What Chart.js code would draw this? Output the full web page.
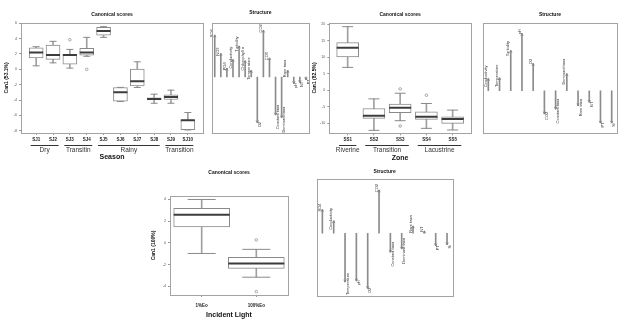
<!DOCTYPE html>
<html lang="en">
<head>
<meta charset="UTF-8">
<title>Canonical scores and structure</title>
<script src="https://cdn.jsdelivr.net/npm/chart.js"></script>
<style>
  body { margin: 0; background: #fff; width: 624px; height: 325px; position: relative; overflow: hidden; }
  canvas { position: absolute; }
</style>
</head>
<body>
<canvas id="seasonBox" width="212" height="163" style="left:0px;top:0px"></canvas>
<canvas id="seasonStruct" width="104" height="140" style="left:209px;top:0px"></canvas>
<canvas id="zoneBox" width="184" height="163" style="left:300px;top:0px"></canvas>
<canvas id="zoneStruct" width="144" height="140" style="left:478px;top:0px"></canvas>
<canvas id="lightBox" width="178" height="159" style="left:140px;top:166px"></canvas>
<canvas id="lightStruct" width="144" height="135" style="left:313px;top:166px"></canvas>

<script>
// ---- season (top left) ----
var seasonSites = ['SJ1', 'SJ2', 'SJ3', 'SJ4', 'SJ5', 'SJ6', 'SJ7', 'SJ8', 'SJ9', 'SJ10'];
var seasonLow  = [0.46, 0.85, 0.16, 1.7, 4.17, -4.2, -2.37, -4.42, -4.42, -7.9];
var seasonQ1   = [1.5, 1.29, 0.68, 1.86, 4.47, -4.16, -2.16, -3.99, -3.93, -7.86];
var seasonMed  = [2.21, 1.86, 1.86, 2.2, 4.99, -2.98, -1.54, -3.86, -3.6, -6.64];
var seasonQ3   = [2.8, 3.16, 1.95, 2.73, 5.48, -2.37, 0.03, -3.73, -3.33, -6.6];
var seasonHigh = [2.95, 3.65, 2.6, 4.17, 5.56, -2.35, 0.98, -3.24, -2.72, -5.63];
var seasonOut  = [[], [], [3.86], [0], [], [], [], [], [], []];
var seasonTicks = [6, 4, 2, 0, -2, -4, -6, -8];
var seasonGroups = [
  { label: 'Dry', from: 1, to: 2 },
  { label: 'Transitin', from: 3, to: 4 },
  { label: 'Rainy', from: 5, to: 8 },
  { label: 'Transition', from: 9, to: 10 }
];

// ---- zone (top right) ----
var zoneSites = ['SS1', 'SS2', 'SS3', 'SS4', 'SS5'];
var zoneLow  = [6.9, -12.1, -9.2, -11.5, -12.0];
var zoneQ1   = [10.1, -8.5, -6.8, -8.8, -10.0];
var zoneMed  = [12.8, -7.7, -5.3, -8.0, -8.7];
var zoneQ3   = [14.4, -5.5, -4.2, -6.5, -8.0];
var zoneHigh = [19.2, -2.6, -0.9, -4.0, -6.0];
var zoneOut  = [[], [], [0.4, -10.8], [-1.5], []];
var zoneTicks = [20, 15, 10, 5, 0, -5, -10];
var zoneGroups = [
  { label: 'Riverine', from: 1, to: 1 },
  { label: 'Transition', from: 2, to: 3 },
  { label: 'Lacustrine', from: 4, to: 5 }
];

// ---- incident light (bottom) ----
var lightLevels = ['1%Eo', '100%Eo'];
var lightLow  = [-0.98, -3.17];
var lightQ1   = [1.48, -2.35];
var lightMed  = [2.6, -1.9];
var lightQ3   = [3.18, -1.34];
var lightHigh = [4.0, -0.6];
var lightOut  = [[], [0.27, -4.5]];
var lightTicks = [4, 2, 0, -2, -4];

// ---- structure coefficients ----
var struct1Vars = ['SO4', 'NO3', 'PO4', 'Conductivity', 'Turbidity', 'Chlorophyll a', 'Temperature', 'O2',
                   'CO2', 'COT', 'Constant taxa', 'Dominant taxa', 'Rare taxa', 'pH', 'NT', 'PT'];
var struct1Load = [0.77, 0.43, 0.16, 0.32, 0.57, 0.30, 0.12, -0.84, 0.86, 0.35, -0.70, -0.75, 0.12, -0.12, -0.10, -0.05];

var struct2Vars = ['Conductivity', 'Temperature', 'Turbidity', 'pH', 'O2', 'CO2', 'Constant taxa',
                   'Dominant taxa', 'Rare taxa', 'NT', 'PT', 'Si'];
var struct2Load = [0.18, 0.19, 0.59, 0.84, 0.40, -0.34, -0.27, 0.25, -0.22, -0.17, -0.475, -0.475];

var struct3Vars = ['SO4', 'Conductivity', 'Temperature', 'pH', 'O2', 'CO2', 'Constant taxa',
                   'Dominant taxa', 'Rare taxa', 'NT', 'PT', 'Si'];
var struct3Load = [0.44, 0.23, -0.9, -0.88, -1.02, 0.8, -0.35, -0.29, 0.135, 0.04, -0.23, -0.21];

Chart.defaults.font.family = '"Liberation Sans", Arial, sans-serif';
Chart.defaults.color = '#333';
Chart.defaults.animation = false;
Chart.defaults.plugins.legend.display = false;
Chart.defaults.plugins.tooltip.enabled = false;

var FRAME = '#a3a3a3';
var LINE = '#8a8a8a';

// frame, title, group underlines
var panelDecor = {
  id: 'panelDecor',
  afterDraw: function (chart, args, opts) {
    var ctx = chart.ctx, a = chart.chartArea;
    ctx.save();
    ctx.strokeStyle = FRAME;
    ctx.lineWidth = 1;
    var l = Math.round(a.left) + 0.5, t = Math.round(a.top) + 0.5;
    ctx.strokeRect(l, t, Math.round(a.right) - Math.round(a.left), Math.round(a.bottom) - Math.round(a.top));
    ctx.fillStyle = '#111';
    ctx.font = 'bold 5px "Liberation Sans", Arial';
    ctx.textAlign = 'center';
    ctx.textBaseline = 'middle';
    ctx.fillText(opts.title, (a.left + a.right) / 2, opts.titleY);
    if (opts.groups) {
      var x = chart.scales.x;
      ctx.strokeStyle = '#333';
      ctx.fillStyle = '#333';
      ctx.font = '6.5px "Liberation Sans", Arial';
      opts.groups.forEach(function (g) {
        var x0 = x.getPixelForValue(g.from - 0.33), x1 = x.getPixelForValue(g.to + 0.33);
        ctx.beginPath();
        ctx.moveTo(x0, opts.lineY + 0.5);
        ctx.lineTo(x1, opts.lineY + 0.5);
        ctx.stroke();
        ctx.fillText(g.label, (x0 + x1) / 2, opts.labelY);
      });
    }
    ctx.restore();
  }
};

// arrowheads and rotated variable names on the structure bars
var arrowLabels = {
  id: 'arrowLabels',
  afterDatasetsDraw: function (chart) {
    var ctx = chart.ctx;
    var meta = chart.getDatasetMeta(0);
    var vals = chart.data.datasets[0].data;
    var names = chart.data.labels;
    ctx.save();
    meta.data.forEach(function (bar, i) {
      var up = vals[i] >= 0, dir = up ? -1 : 1;
      ctx.strokeStyle = '#777';
      ctx.lineWidth = 0.7;
      ctx.beginPath();
      ctx.moveTo(bar.x - 1.3, bar.y - dir * 2.2);
      ctx.lineTo(bar.x, bar.y);
      ctx.lineTo(bar.x + 1.3, bar.y - dir * 2.2);
      ctx.stroke();
      ctx.save();
      ctx.translate(bar.x + (up ? -0.5 : 0.5), bar.y + dir * 2);
      ctx.rotate(-Math.PI / 2);
      ctx.fillStyle = '#3a3a3a';
      ctx.font = '4px "Liberation Sans", Arial';
      ctx.textAlign = 'center';
      ctx.textBaseline = up ? 'bottom' : 'top';
      ctx.fillText(names[i], 0, 0);
      ctx.restore();
    });
    ctx.restore();
  }
};

function boxDatasets(low, q1, med, q3, high, outs, boxPx) {
  function pts(arr) { return arr.map(function (v, i) { return { x: i + 1, y: v }; }); }
  var outPts = [];
  outs.forEach(function (o, i) { o.forEach(function (v) { outPts.push({ x: i + 1, y: v }); }); });
  return [
    { type: 'bar', data: low.map(function (v, i) { return { x: i + 1, y: [v, high[i]] }; }),
      barThickness: 1, backgroundColor: '#a0a0a0', borderWidth: 0, grouped: false, order: 5 },
    { type: 'bar', data: q1.map(function (v, i) { return { x: i + 1, y: [v, q3[i]] }; }),
      barThickness: boxPx, backgroundColor: '#ffffff', borderColor: LINE, borderWidth: 1,
      borderSkipped: false, grouped: false, order: 4 },
    { type: 'scatter', data: pts(med), pointStyle: 'line', radius: boxPx / 2, borderWidth: 2,
      borderColor: '#3c3c3c', order: 1 },
    { type: 'scatter', data: pts(low).concat(pts(high)), pointStyle: 'line', radius: boxPx / 4,
      borderWidth: 1, borderColor: LINE, order: 2 },
    { type: 'scatter', data: outPts, pointStyle: 'circle', radius: 1.3, borderWidth: 0.7,
      borderColor: '#888', backgroundColor: 'rgba(0,0,0,0)', order: 3 }
  ];
}

function boxChart(id, p) {
  return new Chart(document.getElementById(id), {
    type: 'bar',
    data: { datasets: boxDatasets(p.low, p.q1, p.med, p.q3, p.high, p.outs, p.boxPx) },
    options: {
      responsive: false,
      layout: { padding: { top: p.top, right: p.right, left: 0, bottom: 0 } },
      scales: {
        x: {
          type: 'linear', min: 0.5 - 0.04 * p.cats.length, max: p.cats.length + 0.5 + 0.04 * p.cats.length,
          offset: false,
          afterBuildTicks: function (s) { s.ticks = p.cats.map(function (c, i) { return { value: i + 1 }; }); },
          afterFit: function (s) { s.height = p.xHeight; },
          border: { display: false },
          grid: { drawOnChartArea: false, offset: false, tickLength: 2, color: '#999' },
          ticks: { autoSkip: false, maxRotation: 0, padding: p.xTickPad, color: '#222',
                   font: { size: 4.5, weight: 'bold' },
                   callback: function (v) { return p.cats[v - 1]; } },
          title: { display: true, text: p.xTitle, color: '#111', font: { size: 7, weight: 'bold' },
                   padding: { top: 0, bottom: p.xTitlePad } }
        },
        y: {
          min: p.yMin, max: p.yMax,
          afterBuildTicks: function (s) { s.ticks = p.ticks.map(function (v) { return { value: v }; }); },
          afterFit: function (s) { s.width = p.yWidth; },
          border: { display: false },
          grid: { drawOnChartArea: false, tickLength: 2, color: '#999' },
          ticks: { padding: 2, color: '#555', font: { size: 3.6 }, callback: function (v) { return v; } },
          title: { display: true, text: p.yTitle, color: '#111', font: { size: 5, weight: 'bold' },
                   padding: { top: p.yTitlePad, bottom: 0 } }
        }
      },
      plugins: {
        panelDecor: { title: 'Canonical scores', titleY: p.titleY, groups: p.groups,
                      lineY: p.lineY, labelY: p.labelY }
      }
    },
    plugins: [panelDecor]
  });
}

function structChart(id, p) {
  return new Chart(document.getElementById(id), {
    type: 'bar',
    data: {
      labels: p.vars,
      datasets: [{ data: p.load, barThickness: 1, backgroundColor: '#8c8c8c', borderWidth: 0 }]
    },
    options: {
      responsive: false,
      layout: { padding: p.pad },
      scales: {
        x: { display: false, offset: true },
        y: { display: false, min: p.yMin, max: 1 }
      },
      plugins: { panelDecor: { title: 'Structure', titleY: p.titleY } }
    },
    plugins: [panelDecor, arrowLabels]
  });
}

boxChart('seasonBox', {
  cats: seasonSites, low: seasonLow, q1: seasonQ1, med: seasonMed, q3: seasonQ3, high: seasonHigh,
  outs: seasonOut, ticks: seasonTicks, boxPx: 14, yMin: -8.3, yMax: 6.08,
  top: 22.7, right: 4, xHeight: 30, yWidth: 21, xTickPad: 2, xTitlePad: 1.5, yTitlePad: 3.7,
  xTitle: 'Season', yTitle: 'Can1 (53.1%)', titleY: 14.3, groups: seasonGroups, lineY: 145, labelY: 150
});

boxChart('zoneBox', {
  cats: zoneSites, low: zoneLow, q1: zoneQ1, med: zoneMed, q3: zoneQ3, high: zoneHigh,
  outs: zoneOut, ticks: zoneTicks, boxPx: 22, yMin: -13.0, yMax: 20.4,
  top: 22.7, right: 3.3, xHeight: 29.7, yWidth: 29.3, xTickPad: 2, xTitlePad: 1.1, yTitlePad: 12,
  xTitle: 'Zone', yTitle: 'Can1 (82.5%)', titleY: 14.3, groups: zoneGroups, lineY: 145, labelY: 150.7
});

boxChart('lightBox', {
  cats: lightLevels, low: lightLow, q1: lightQ1, med: lightMed, q3: lightQ3, high: lightHigh,
  outs: lightOut, ticks: lightTicks, boxPx: 56, yMin: -4.81, yMax: 4.32,
  top: 14, right: 3, xHeight: 30, yWidth: 24, xTickPad: 6.3, xTitlePad: 5.4, yTitlePad: 5,
  xTitle: 'Incident Light', yTitle: 'Can1 (100%)', titleY: 6.7
});

structChart('seasonStruct', {
  vars: struct1Vars, load: struct1Load, yMin: -1.037, titleY: 13,
  pad: { left: 2.7, right: 4, top: 22.7, bottom: 6.7 }
});

structChart('zoneStruct', {
  vars: struct2Vars, load: struct2Load, yMin: -0.626, titleY: 14.3,
  pad: { left: 4.7, right: 4.7, top: 22.7, bottom: 6.7 }
});

structChart('lightStruct', {
  vars: struct3Vars, load: struct3Load, yMin: -1.156, titleY: 5.7,
  pad: { left: 3.7, right: 4.3, top: 13.3, bottom: 5.3 }
});
</script>
</body>
</html>
